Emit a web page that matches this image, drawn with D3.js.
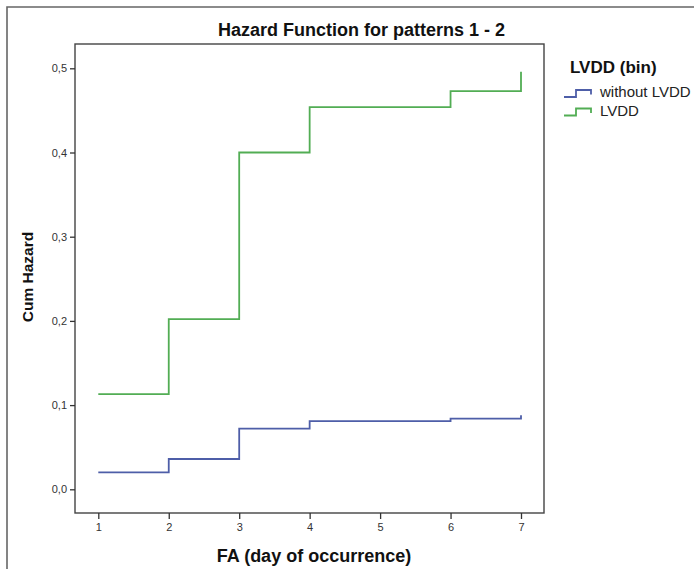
<!DOCTYPE html>
<html>
<head>
<meta charset="utf-8">
<script src="https://cdn.jsdelivr.net/npm/d3@7"></script>
<style>
  body { margin: 0; background: #fff; font-family: "Liberation Sans", Arial, sans-serif; }
</style>
</head>
<body>
<div id="chart"></div>
<script>
// days of occurrence
var days = [1, 2, 3, 4, 5, 6, 7];
// step change points and cumulative hazard
var stepDays = [1, 2, 3, 4, 6, 7];
var hazardWithout = [0.020, 0.036, 0.072, 0.081, 0.084, 0.088];
var hazardLVDD = [0.113, 0.202, 0.400, 0.454, 0.473, 0.496];
var yTicks = [0, 0.1, 0.2, 0.3, 0.4, 0.5];
var seriesNames = ["without LVDD", "LVDD"];
var seriesColors = ["#4e5ea8", "#52ad54"];

var W = 694, H = 569;
var margin = {top: 44, left: 75},
  width = 544 - margin.left,
  height = 513 - margin.top;

var svg = d3.select("#chart")
  .append("svg")
    .attr("width", W)
    .attr("height", H);

// outer frame (top + left only, the rest is cropped)
svg.append("path")
  .attr("d", "M7," + H + "V7H" + W)
  .attr("fill", "none")
  .attr("stroke", "#666")
  .attr("stroke-width", 1.6);

var g = svg.append("g")
  .attr("transform", "translate(" + margin.left + "," + margin.top + ")");

var x = d3.scaleLinear()
  .domain([1, 7])
  .range([98.3 - margin.left, 521 - margin.left]);

var y = d3.scaleLinear()
  .domain([0, 0.5])
  .range([489.3 - margin.top, 68.3 - margin.top]);

// plot box
g.append("rect")
  .attr("x", 0).attr("y", 0)
  .attr("width", width).attr("height", height)
  .attr("fill", "none")
  .attr("stroke", "#444")
  .attr("stroke-width", 1.4);

// X axis
var xAxis = g.append("g")
  .attr("transform", "translate(0," + height + ")")
  .call(d3.axisBottom(x).tickValues(days).tickSize(6).tickPadding(4).tickFormat(d3.format("d")));
xAxis.select(".domain").remove();
xAxis.selectAll("line").attr("stroke", "#333").attr("stroke-width", 1.3);
xAxis.selectAll("text").attr("fill", "#333").style("font-size", "11px").style("font-family", "Liberation Sans, Arial, sans-serif");

// Y axis
var yAxis = g.append("g")
  .call(d3.axisLeft(y).tickValues(yTicks).tickSize(5).tickPadding(3)
    .tickFormat(function (d) { return d3.format(".1f")(d).replace(".", ","); }));
yAxis.select(".domain").remove();
yAxis.selectAll("line").attr("stroke", "#333").attr("stroke-width", 1.3);
yAxis.selectAll("text").attr("fill", "#333").style("font-size", "11px").style("font-family", "Liberation Sans, Arial, sans-serif");

// step lines
var line = d3.line()
  .curve(d3.curveStepAfter)
  .x(function (d) { return x(d[0]); })
  .y(function (d) { return y(d[1]); });

[hazardWithout, hazardLVDD].forEach(function (vals, i) {
  var pts = stepDays.map(function (d, j) { return [d, vals[j]]; });
  g.append("path")
    .datum(pts)
    .attr("d", line)
    .attr("fill", "none")
    .attr("stroke", seriesColors[i])
    .attr("stroke-width", 1.8);
});

// title
svg.append("text")
  .attr("x", 218).attr("y", 36)
  .style("font-size", "18px")
  .style("font-weight", "bold")
  .attr("fill", "#111")
  .text("Hazard Function for patterns 1 - 2");

// axis labels
svg.append("text")
  .attr("x", 314).attr("y", 562)
  .attr("text-anchor", "middle")
  .style("font-size", "18px")
  .style("font-weight", "bold")
  .attr("fill", "#111")
  .text("FA (day of occurrence)");

svg.append("text")
  .attr("transform", "translate(33,277) rotate(-90)")
  .attr("text-anchor", "middle")
  .style("font-size", "15.5px")
  .style("font-weight", "bold")
  .attr("fill", "#111")
  .text("Cum Hazard");

// Handmade legend
svg.append("text")
  .attr("x", 570).attr("y", 73)
  .style("font-size", "17px")
  .style("font-weight", "bold")
  .attr("fill", "#111")
  .text("LVDD (bin)");

seriesNames.forEach(function (name, i) {
  var cy = 93.5 + i * 18.5;
  svg.append("path")
    .attr("d", "M564," + (cy + 3.5) + "H576V" + (cy - 3.5) + "H591V" + (cy + 1))
    .attr("fill", "none")
    .attr("stroke", seriesColors[i])
    .attr("stroke-width", 1.8);
  svg.append("text")
    .attr("x", 600).attr("y", cy)
    .attr("dominant-baseline", "middle")
    .style("font-size", "15px")
    .attr("fill", "#222")
    .text(name);
});
</script>
</body>
</html>
